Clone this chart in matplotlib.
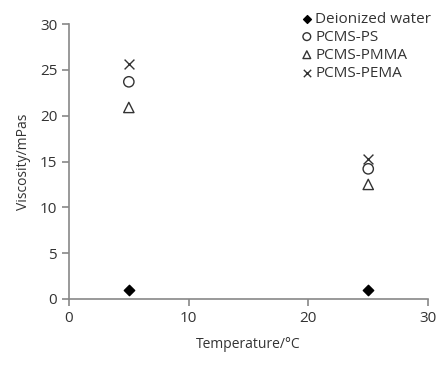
import matplotlib
matplotlib.use("Agg")
import matplotlib.pyplot as plt

plt.rcParams['font.family'] = ['Open Sans', 'DejaVu Sans']

temps = [5, 25]
water = [1.0, 0.95]
ps = [23.7, 14.2]
pmma = [20.9, 12.5]
pema = [25.6, 15.3]
xticks = [0, 10, 20, 30]
yticks = [0, 5, 10, 15, 20, 25, 30]

fig = plt.figure(figsize=(4.45, 3.65), dpi=100)
ax = fig.add_axes([0.155, 0.181, 0.807, 0.753])

ax.scatter(temps, water, marker='D', s=28, color='black', label='Deionized water')
ax.scatter(temps, ps, marker='o', s=55, facecolors='none', edgecolors='#333333', linewidths=1.0, label='PCMS-PS')
ax.scatter(temps, pmma, marker='^', s=55, facecolors='none', edgecolors='#333333', linewidths=1.0, label='PCMS-PMMA')
ax.scatter(temps, pema, marker='x', s=50, color='#333333', linewidths=1.0, label='PCMS-PEMA')

ax.set_xlim(0, 30)
ax.set_ylim(0, 30)
ax.set_xticks(xticks)
ax.set_yticks(yticks)
for s in ['top', 'right']:
    ax.spines[s].set_visible(False)
for s in ['left', 'bottom']:
    ax.spines[s].set_color('#888888')
    ax.spines[s].set_linewidth(1.2)
ax.tick_params(colors='#888888', labelcolor='#333333', labelsize=11, length=5, width=1.2)
ax.set_xlabel('Temperature/°C', fontsize=10, color='#333333', labelpad=8)
ax.set_ylabel('Viscosity/mPas', fontsize=10, color='#333333', labelpad=6)

fig.legend(loc='upper left', bbox_to_anchor=(0.662, 0.985), frameon=False, fontsize=11,
           handletextpad=0.15, handlelength=0.8, labelspacing=0.2, borderaxespad=0,
           markerscale=0.75, labelcolor='#333333')

fig.savefig('out.png', dpi=100)
